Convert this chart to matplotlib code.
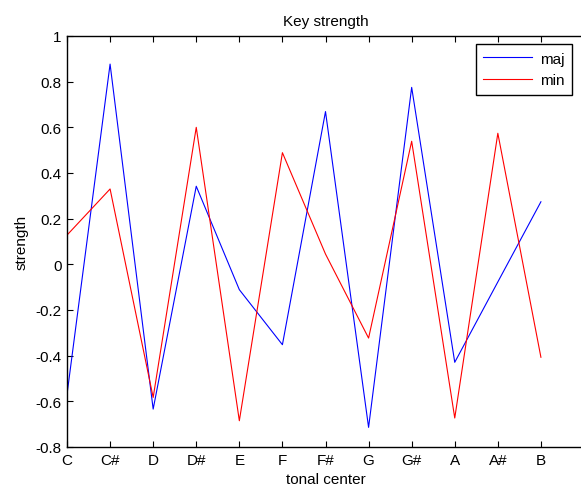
import numpy as np
import matplotlib
matplotlib.use("Agg")
import matplotlib.pyplot as plt

# Datos
tonos = ['C', 'C#', 'D', 'D#', 'E', 'F', 'F#', 'G', 'G#', 'A', 'A#', 'B']
maj = [-0.57, 0.877, -0.634, 0.342, -0.111, -0.352, 0.669, -0.714, 0.775, -0.429, -0.077, 0.274]
mnr = [0.128, 0.330, -0.583, 0.600, -0.685, 0.489, 0.045, -0.323, 0.539, -0.673, 0.574, -0.407]
yticks = [-0.8, -0.6, -0.4, -0.2, 0, 0.2, 0.4, 0.6, 0.8, 1]
ylabels = ['-0.8', '-0.6', '-0.4', '-0.2', '0', '0.2', '0.4', '0.6', '0.8', '1']

plt.rcParams['font.family'] = ['Liberation Sans', 'DejaVu Sans']

fig = plt.figure(figsize=(5.81, 4.89), dpi=100)
# el eje se sale por la derecha de la figura, como en la original
ax = fig.add_axes([67/581, 41/489, 517/581, 411/489])

x = np.arange(1, len(tonos) + 1)
ax.plot(x, maj, "-", color="blue", linewidth=0.8, label="maj")
ax.plot(x, mnr, "-", color="red", linewidth=0.8, label="min")

ax.set_xlim(1, 13); ax.set_xticks(x); ax.set_xticklabels(tonos)
ax.set_ylim(-0.8, 1); ax.set_yticks(yticks); ax.set_yticklabels(ylabels)
ax.tick_params(direction="in", length=4, width=0.8, labelsize=11, top=True, right=False, pad=4)
for s in ax.spines.values():
    s.set_linewidth(1.0)

ax.set_title("Key strength", fontsize=11, pad=8)
ax.set_xlabel("tonal center", fontsize=11, labelpad=4)
ax.set_ylabel("strength", fontsize=11, labelpad=5)

leg = ax.legend(loc="upper right", bbox_to_anchor=(572/581, 1 - 45/489),
                bbox_transform=fig.transFigure, borderaxespad=0, fancybox=False,
                framealpha=1, edgecolor="black", fontsize=11, handlelength=3.2,
                borderpad=0.5, labelspacing=0.5, handletextpad=0.5)
leg.get_frame().set_linewidth(1.0)

fig.savefig("out.png", dpi=100)
